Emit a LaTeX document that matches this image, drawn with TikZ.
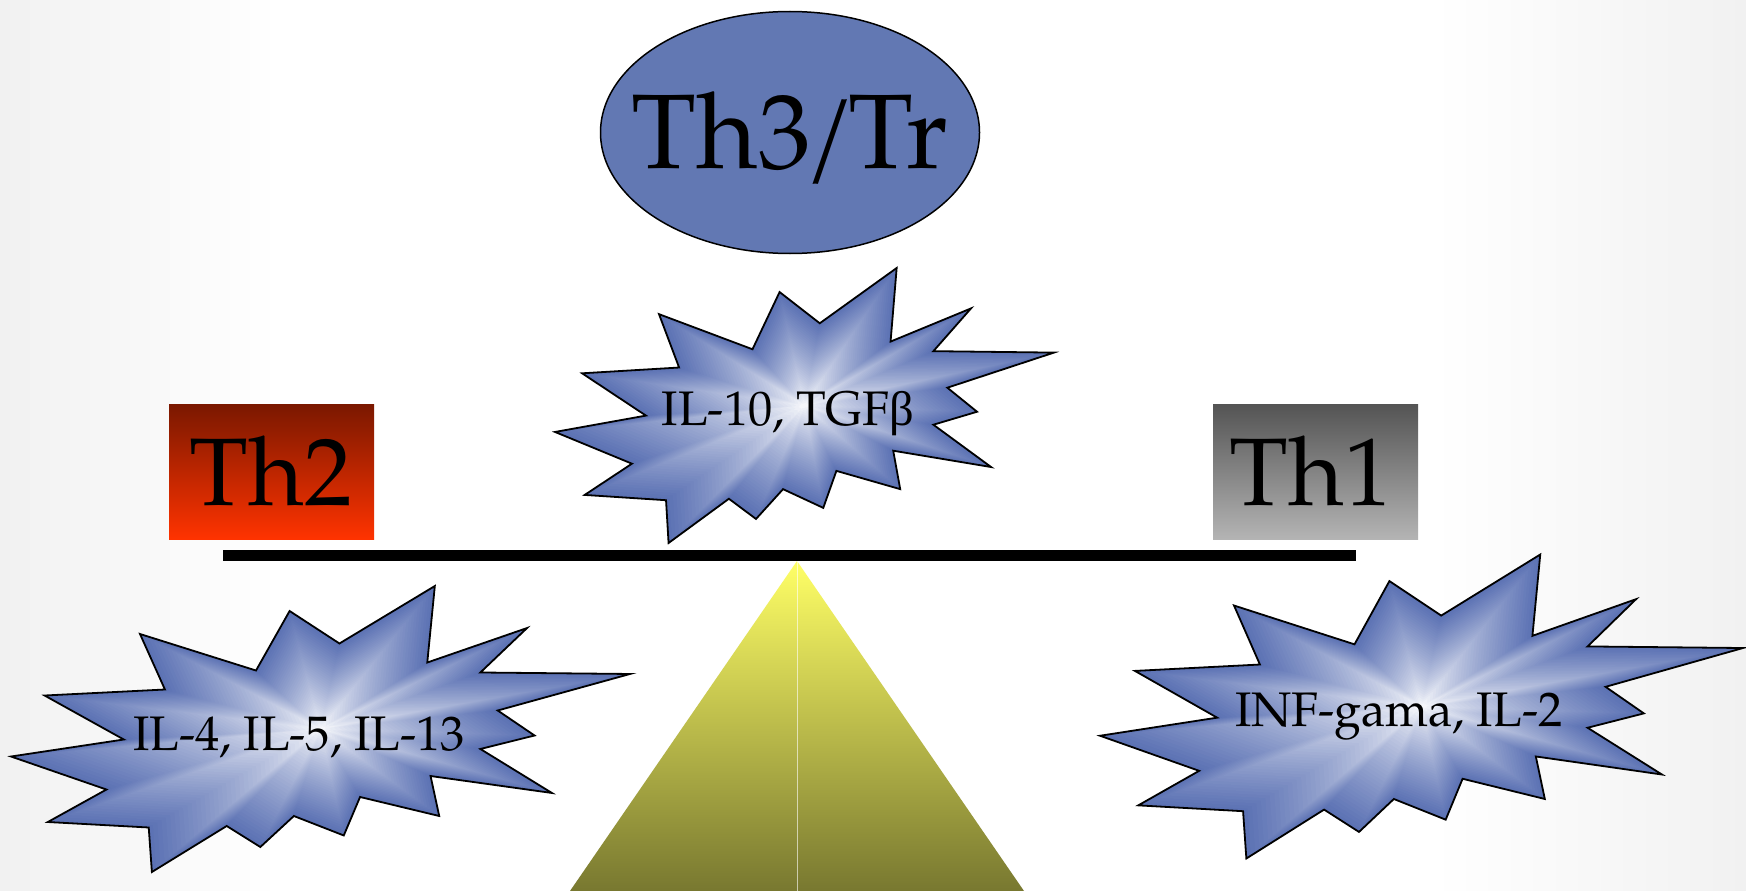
\documentclass[tikz,border=0pt]{standalone}
\usepackage{fontspec}
\setmainfont{TeX Gyre Pagella}
\newfontfamily\grk{Liberation Serif}
\definecolor{sb}{RGB}{92,114,180}
\definecolor{ovalblue}{RGB}{98,120,179}
\definecolor{bgg}{RGB}{241,241,241}
\definecolor{thtwotop}{RGB}{122,24,0}
\definecolor{thtwobot}{RGB}{255,51,0}
\definecolor{thonetop}{RGB}{84,84,84}
\definecolor{thonebot}{RGB}{180,180,180}
\definecolor{tritop}{RGB}{255,255,102}
\definecolor{tribot}{RGB}{120,120,48}
\pgfdeclarehorizontalshading{bgshade}{100bp}{color(0bp)=(bgg); color(25bp)=(bgg); color(33bp)=(white); color(66bp)=(white); color(75bp)=(bgg); color(100bp)=(bgg)}
\newcommand\starpoly[1]{\path[#1] (3.06,-29.90) -- (18.47,-50) -- (17.25,-23.25) -- (33.37,-35.31) -- (25.83,-19.76) -- (50,-19.24) -- (28.63,-6.47) -- (34.58,2.27) -- (25.83,6.99) -- (37.39,22.37) -- (17.78,16.44) -- (19.18,30.42) -- (6.39,23.77) -- (3.76,37.23) -- (-4.30,30.42) -- (-9.72,41.26) -- (-15.15,33.91) -- (-27.24,50) -- (-27.75,34.44) -- (-44.05,32.52) -- (-34.58,21.16) -- (-50,9.62) -- (-31.78,3.67) -- (-44.57,-11.71) -- (-25.13,-13.81) -- (-29.16,-33.22) -- (-10.42,-20.45) -- (-4.99,-41.26) -- cycle;}
\newcommand\burst[5]{%
  \begin{scope}[shift={({#2+#4/2},{#3+#5/2})}, xscale=#4/100, yscale=#5/100]
    \foreach \i in {40,39,...,1}{%
      \pgfmathsetmacro\p{100*(\i/40)^0.75}
      \begin{scope}[scale=\i/40]\starpoly{fill=sb!\p!white}\end{scope}
    }
    \starpoly{draw=black, line width=1.8pt, line join=miter}
    \coordinate (#1) at (0,0);
  \end{scope}}
\tikzset{
  lbl/.style={inner sep=0pt, anchor=base, text=black},
  small/.style={lbl, font=\fontsize{48.5}{52}\selectfont},
  big/.style={lbl, font=\fontsize{96}{100}\selectfont},
  thbox/.style={rectangle, inner sep=0pt, minimum width=205pt, minimum height=135pt, anchor=north west},
  oval/.style={ellipse, draw=black, line width=1.5pt, fill=ovalblue, minimum width=379pt, minimum height=242pt, inner sep=0pt},
  beamstyle/.style={rectangle, fill=black, inner sep=0pt, minimum width=1133pt, minimum height=11pt, anchor=north west}
}
\usetikzlibrary{shapes.geometric}
\begin{document}
\begin{tikzpicture}[x=1pt, y=-1pt]
\useasboundingbox (0,0) rectangle (1746,891);
\shade[shading=bgshade] (0,0) rectangle (1746,891);
% fulcrum
\coordinate (apex) at (797,561);
\coordinate (baseL) at (570,891);
\coordinate (baseR) at (1024,891);
\coordinate (baseM) at (797,891);
\shade[top color=tritop, bottom color=tribot] (apex) -- (baseL) -- (baseR) -- cycle;
\draw[white, opacity=0.6, line width=0.8pt] (apex) -- (baseM);
% beam
\node[beamstyle] (beam) at (223,550) {};
% bursts
\burst{sIL}{555}{268}{499}{275}
\burst{sL}{11}{586}{619}{286}
\burst{sR}{1100}{554.5}{643}{304}
% boxes
\node[thbox, top color=thtwotop, bottom color=thtwobot] (thtwobox) at (169,404) {};
\node[thbox, top color=thonetop, bottom color=thonebot] (thonebox) at (1213,404) {};
\node[big] (thtwo) at (271,505) {Th2};
\node[big] (thone) at (1311,505) {Th1};
% oval
\node[oval] (ththreeoval) at (790,132.5) {};
\node[lbl, font=\fontsize{106}{110}\selectfont] (ththree) at (790,168) {Th3\kern-0.07em/\kern-0.07em Tr};
% burst labels
\node[small] (ilten) at (788,425) {IL-10, TGF{\grk β}};
\node[small] (ilfour) at (299,750.7) {IL-4, IL-5, IL-13};
\node[small] (inf) at (1399,726.7) {INF-gama, IL-2};
\end{tikzpicture}
\end{document}
